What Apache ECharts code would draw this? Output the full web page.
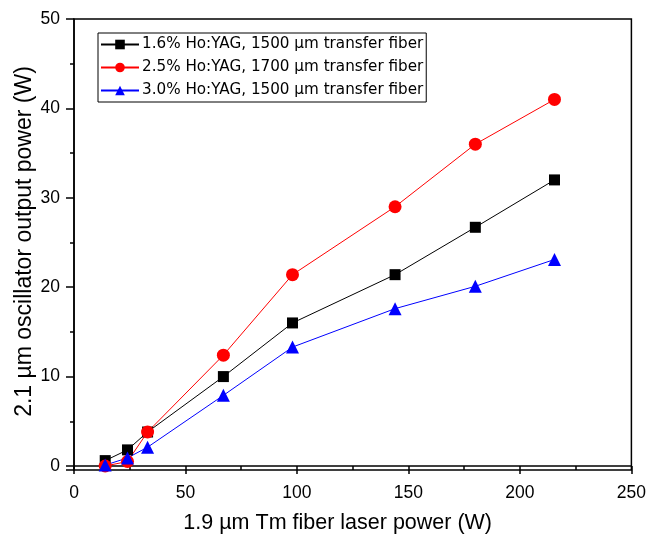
<!DOCTYPE html>
<html><head><meta charset="utf-8">
<script src="https://cdn.jsdelivr.net/npm/echarts@6/dist/echarts.min.js"></script>
<style>html,body{margin:0;padding:0;background:#fff}#c{width:649px;height:541px}</style>
</head><body><div id="c"></div>
<script>
const xPower = [14, 24, 33, 67, 98, 144, 180, 215.5];
const s16 = [0.6, 1.8, 3.8, 10.0, 16.0, 21.4, 26.7, 32.0];
const s25 = [0.0, 0.5, 3.8, 12.4, 21.4, 29.0, 36.0, 41.0];
const s30 = [0.1, 0.9, 2.1, 7.9, 13.3, 17.6, 20.1, 23.1];
const names = ['1.6% Ho:YAG, 1500 µm transfer fiber','2.5% Ho:YAG, 1700 µm transfer fiber','3.0% Ho:YAG, 1500 µm transfer fiber'];
const xTitle = '1.9 µm Tm fiber laser power (W)';
const yTitle = '2.1 µm oscillator output power (W)';
const F = 'Liberation Sans, Arial, sans-serif';
const pairs = ys => xPower.map((x,i)=>[x, ys[i]]);
const chart = echarts.init(document.getElementById('c'), null, {renderer:'canvas'});
const mk = (name, data, color, symbol, size) => ({
  name, type:'line', data, symbol, symbolSize:size,
  lineStyle:{color, width:1}, itemStyle:{color}, z: 3
});
chart.setOption({
  animation:false,
  grid:{left:74, top:19, right:16, bottom:71, show:true, borderColor:'#000', borderWidth:1.5},
  legend:{orient:'vertical', left:98, top:33, itemWidth:38, itemHeight:12, itemGap:8,
    padding:[4,3,4,2], borderColor:'#000', borderWidth:1, backgroundColor:'#fff',
    textStyle:{fontFamily:'DejaVu Sans, sans-serif', fontSize:15.2, color:'#000', padding:[0,0,0,-2]}, data:names},
  xAxis:{type:'value', min:0, max:250, interval:50,
    name:xTitle, nameLocation:'middle', nameGap:42, nameMoveOverlap:false,
    nameTextStyle:{fontFamily:F, fontSize:21.5, color:'#000', padding:[0,30,0,0]},
    axisLine:{lineStyle:{color:'#000', width:1.5}},
    axisTick:{show:true, inside:false, length:8, lineStyle:{color:'#000', width:1.5}},
    minorTick:{show:true, splitNumber:2, length:4, lineStyle:{color:'#000', width:1.5}},
    splitLine:{show:false},
    axisLabel:{fontFamily:F, fontSize:17.5, color:'#000', margin:14}},
  yAxis:{type:'value', min:-0.45, max:50,
    name:yTitle, nameLocation:'middle', nameGap:38, nameMoveOverlap:false,
    nameTextStyle:{fontFamily:F, fontSize:23, color:'#000', padding:[0,0,0,6]},
    axisLine:{lineStyle:{color:'#000', width:1.5}},
    axisTick:{show:true, inside:false, length:8, lineStyle:{color:'#000', width:1.5}},
    minorTick:{show:true, splitNumber:2, length:4, lineStyle:{color:'#000', width:1.5}},
    splitLine:{show:false},
    axisLabel:{fontFamily:F, fontSize:17.5, color:'#000', margin:14,
      formatter: v => (Math.abs(v % 10) < 1e-6 ? String(v) : '')}},
  series:[
    mk(names[0], pairs(s16), '#000000', 'rect', 11),
    mk(names[1], pairs(s25), '#ff0000', 'circle', 13),
    mk(names[2], pairs(s30), '#0000ff', 'triangle', 13)
  ]
});
</script></body></html>
